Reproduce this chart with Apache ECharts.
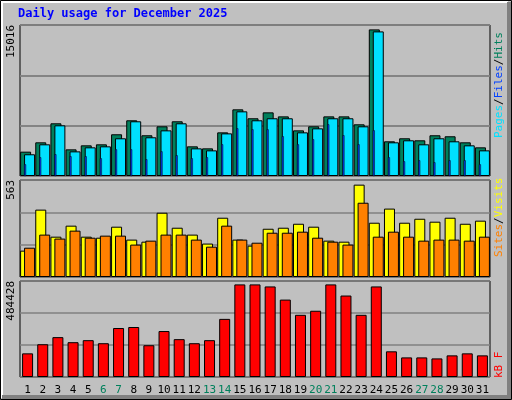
<!DOCTYPE html>
<html><head><meta charset="utf-8">
<script src="https://cdn.jsdelivr.net/npm/echarts@6/dist/echarts.min.js"></script>
<style>html,body{margin:0;padding:0;background:#c0c0c0}#c{width:512px;height:400px}</style>
</head><body><div id="c"></div>
<script>
const days = Array.from({length:31},(_,i)=>String(i+1));
const weekendDays = ['6','7','13','14','20','21','27','28'];
const hits = [2420,3350,5240,2650,3050,3150,4150,5540,4050,4940,5440,2950,2750,4340,6630,5740,6330,5930,4540,4940,5930,5930,5140,14580,3450,3750,3550,4050,3950,3350,2850];
const files = [2160,3150,5040,2450,2850,2950,3750,5440,3850,4540,5240,2750,2550,4240,6430,5540,5740,5740,4340,4740,5740,5740,4940,14380,3350,3550,3150,3750,3450,3050,2550];
const pages = [1160,1860,2160,1960,1960,1760,2650,2650,1660,2450,2060,1760,1860,3150,4740,4640,4640,3950,3150,3650,5140,4050,3150,4540,1860,1460,1560,1360,1560,1560,1160];
const visits = [153,391,234,298,234,228,292,217,205,373,286,246,194,344,217,182,280,286,309,292,211,205,536,315,397,315,338,321,344,309,327];
const sites = [170,246,223,269,228,240,240,188,211,246,246,217,176,298,217,199,257,257,263,228,205,188,431,234,263,234,211,217,217,211,234];
const kbytes = [119300,165400,201200,175600,185900,170500,247200,252300,160300,231900,191000,170500,185900,293300,467300,467300,457000,390600,313800,334300,467300,411100,313800,457000,129600,98900,98900,93800,109200,119300,109200];
const maxHits = 15016, maxSites = 563, maxKB = 484428;

const F = 'DejaVu Sans Mono';
const grids = [
  {left:20, right:22, top:25, height:151},
  {left:20, right:22, top:180, height:97},
  {left:20, right:22, top:281, height:96}
].map(g=>Object.assign(g,{show:true,borderColor:'#000',borderWidth:1,backgroundColor:'transparent'}));

function xa(gi, show){
  return {type:'category', gridIndex:gi, data:days, show:show,
    axisLine:{show:false}, axisTick:{show:false}, splitLine:{show:false},
    axisLabel:{show:show, interval:0, margin:8, fontFamily:F, fontSize:11,
      color:(v)=>weekendDays.includes(v)?'#00805c':'#000'}};
}
function ya(gi,max){
  return {type:'value', gridIndex:gi, min:0, max:max, interval:max/3,
    axisLine:{show:false}, axisTick:{show:false}, axisLabel:{show:false},
    splitLine:{lineStyle:{color:'#808080',width:1.5}}};
}
const bs = {borderColor:'#000', borderWidth:1};
const chart = echarts.init(document.getElementById('c'));
chart.setOption({
  animation:false,
  backgroundColor:'#c0c0c0',
  grid:grids,
  xAxis:[xa(0,false), xa(0,false), xa(1,false), xa(2,true)],
  yAxis:[ya(0,maxHits), ya(0,maxHits), ya(1,maxSites), ya(2,maxKB)],
  series:[
    {type:'bar', xAxisIndex:0, yAxisIndex:0, data:hits, barWidth:11, barGap:'-64%', z:2,
      itemStyle:Object.assign({color:'#00805c'},bs)},
    {type:'bar', xAxisIndex:0, yAxisIndex:0, data:files, barWidth:11, z:3,
      itemStyle:Object.assign({color:'#00e0ff'},bs)},
    {type:'bar', xAxisIndex:1, yAxisIndex:1, data:pages, barWidth:2, barGap:'150%', z:4,
      itemStyle:{color:'#0040ff', borderColor:'#000', borderWidth:0.5}},
    {type:'bar', xAxisIndex:1, yAxisIndex:1, data:pages.map(()=>0), barWidth:2, z:1,
      itemStyle:{color:'transparent'}},
    {type:'bar', xAxisIndex:2, yAxisIndex:2, data:visits, barWidth:11, barGap:'-64%', z:2,
      itemStyle:Object.assign({color:'#ffff00'},bs)},
    {type:'bar', xAxisIndex:2, yAxisIndex:2, data:sites, barWidth:11, z:3,
      itemStyle:Object.assign({color:'#ff8000'},bs)},
    {type:'bar', xAxisIndex:3, yAxisIndex:3, data:kbytes, barWidth:11, z:2,
      itemStyle:Object.assign({color:'#ff0000'},bs)}
  ],
  graphic:[
    {type:'rect', shape:{x:0.5,y:0.5,width:511,height:399}, style:{fill:null, stroke:'#000', lineWidth:1}, z:0},
    {type:'polyline', shape:{points:[[2,398],[2,2],[508,2]]}, style:{stroke:'#fff', lineWidth:2, fill:null}},
    {type:'polyline', shape:{points:[[509,2],[509,397],[2,397]]}, style:{stroke:'#808080', lineWidth:4, fill:null}},
    {type:'text', left:18, top:8, style:{text:'Daily usage for December 2025', font:'bold 12px "DejaVu Sans Mono"', fill:'#0000ff'}},
    {type:'text', x:6, y:25, rotation:Math.PI/2, style:{text:String(maxHits), font:'11px "DejaVu Sans Mono"', fill:'#000', align:'right', verticalAlign:'top'}},
    {type:'text', x:6, y:180, rotation:Math.PI/2, style:{text:String(maxSites), font:'11px "DejaVu Sans Mono"', fill:'#000', align:'right', verticalAlign:'top'}},
    {type:'text', x:6, y:281, rotation:Math.PI/2, style:{text:String(maxKB), font:'11px "DejaVu Sans Mono"', fill:'#000', align:'right', verticalAlign:'top'}},
    {type:'text', x:494, y:25, rotation:-Math.PI/2+Math.PI, style:{text:'', fill:'#000'}},
    {type:'text', x:494, y:138, rotation:Math.PI/2, style:{
      text:'{p|Pages}{s|/}{f|Files}{s|/}{h|Hits}', font:'11px "DejaVu Sans Mono"', align:'left', verticalAlign:'top',
      rich:{p:{fill:'#00e0ff',font:'11px "DejaVu Sans Mono"'},s:{fill:'#000',font:'11px "DejaVu Sans Mono"'},f:{fill:'#0040ff',font:'11px "DejaVu Sans Mono"'},h:{fill:'#00805c',font:'11px "DejaVu Sans Mono"'}}}},
    {type:'text', x:494, y:257, rotation:Math.PI/2, style:{
      text:'{a|Sites}{s|/}{b|Visits}', font:'11px "DejaVu Sans Mono"', align:'left', verticalAlign:'top',
      rich:{a:{fill:'#ff8000',font:'11px "DejaVu Sans Mono"'},s:{fill:'#000',font:'11px "DejaVu Sans Mono"'},b:{fill:'#ffff00',font:'11px "DejaVu Sans Mono"'}}}},
    {type:'text', x:494, y:378, rotation:Math.PI/2, style:{text:'kB F', font:'11px "DejaVu Sans Mono"', fill:'#ff0000', align:'left', verticalAlign:'top'}}
  ]
});
</script></body></html>
